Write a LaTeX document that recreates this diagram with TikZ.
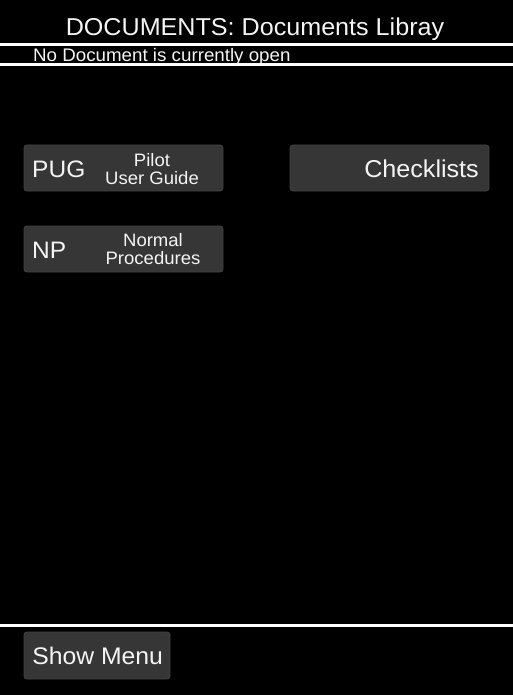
\documentclass[tikz,border=0pt]{standalone}
\usepackage{fontspec}
\setmainfont{Liberation Sans}[FakeStretch=1.03]
\definecolor{btnfill}{HTML}{363636}
\definecolor{btnedge}{HTML}{444444}
\definecolor{txt}{HTML}{F4F4F4}
\tikzset{
  btn/.style={draw=btnedge, fill=btnfill, rounded corners=3pt, line width=0.8pt},
  sep/.style={draw=white, line width=3pt},
  bigtxt/.style={text=txt, font=\fontsize{23.8}{27}\selectfont, inner sep=0pt, anchor=base west},
  smalltxt/.style={text=txt, font=\fontsize{18}{17.6}\selectfont, inner sep=0pt, align=center},
}
\begin{document}
\begin{tikzpicture}[x=1pt,y=-1pt]
\fill[black] (0,0) rectangle (513,695);
\useasboundingbox (0,0) rectangle (513,695);
% separators
\coordinate (l1a) at (0,45); \coordinate (l1b) at (513,45);
\coordinate (l2a) at (0,65); \coordinate (l2b) at (513,65);
\coordinate (l3a) at (0,625); \coordinate (l3b) at (513,625);
\draw[sep] (l1a) -- (l1b);
\draw[sep] (l2a) -- (l2b);
\draw[sep] (l3a) -- (l3b);
% header
\node[text=txt, font=\fontsize{24.4}{27}\selectfont, inner sep=0pt, anchor=base] (title) at (255,36) {DOCUMENTS: Documents Libray};
\node[text=txt, font=\fontsize{18.2}{20}\selectfont, inner sep=0pt, anchor=base west] (status) at (33,62) {No Document is currently open};
% buttons
\draw[btn] (24,145) rectangle (223,191);
\node[bigtxt] (pug) at (32,177.5) {PUG};
\node[smalltxt, anchor=base] (pugl1) at (152,166.5) {Pilot};
\node[smalltxt, anchor=base] (pugl2) at (152,184.3) {User Guide};
\draw[btn] (24,226) rectangle (223,272);
\node[bigtxt] (np) at (32,258) {NP};
\node[smalltxt, anchor=base] (npl1) at (153,246.7) {Normal};
\node[smalltxt, anchor=base] (npl2) at (153,264.3) {Procedures};
\draw[btn] (290,145) rectangle (489,191);
\node[bigtxt, font=\fontsize{24.4}{27}\selectfont, anchor=base east] (chk) at (479,177.5) {Checklists};
\draw[btn] (24,632) rectangle (170,679);
\node[bigtxt, font=\fontsize{24}{27}\selectfont, anchor=base] (menu) at (97.7,664) {Show Menu};
\end{tikzpicture}
\end{document}
